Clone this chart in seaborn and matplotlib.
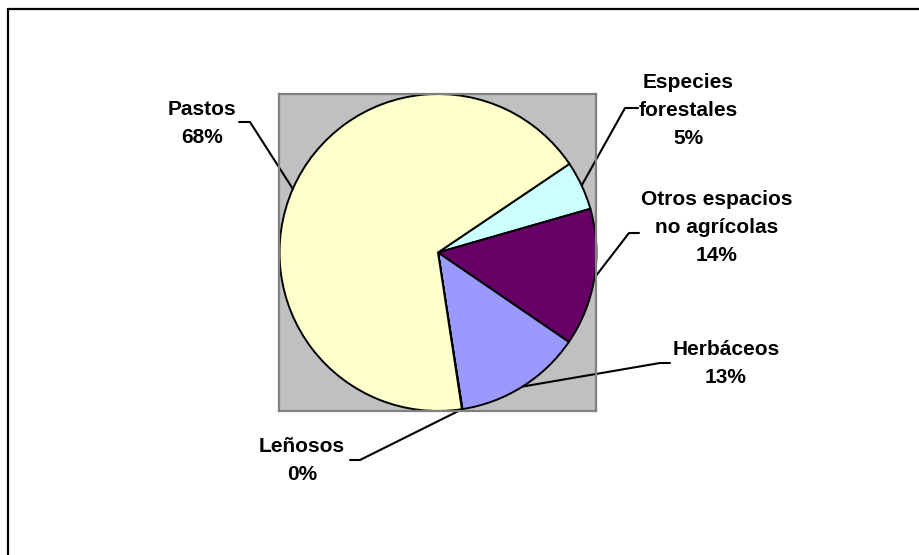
import matplotlib
matplotlib.use("Agg")
import matplotlib.pyplot as plt
from matplotlib.lines import Line2D
import numpy as np
import seaborn as sns

# Land-use shares, listed clockwise starting at the top-right
categories = ["Especies\nforestales", "Otros espacios\nno agrícolas", "Herbáceos", "Leñosos", "Pastos"]
values = [5.0, 14.0, 13.0, 0.05, 68.0]
slice_colors = ["#CCFFFF", "#660066", "#9999FF", "#993366", "#FFFFCC"]

sns.set_theme(style="white")
plt.rcParams["font.family"] = ["Liberation Sans", "DejaVu Sans"]

W, H = 920, 555
fig = plt.figure(figsize=(W / 100, H / 100), dpi=100)
fig.patch.set_facecolor("white")

# Outer frame (top and left edges visible)
fig.add_artist(Line2D([8 / W, 1.0], [1 - 9 / H, 1 - 9 / H], color="black", lw=1.6,
                      transform=fig.transFigure))
fig.add_artist(Line2D([8 / W, 8 / W], [0.0, 1 - 9 / H], color="black", lw=1.6,
                      transform=fig.transFigure))

# Plot area: grey square holding the pie
ax = fig.add_axes([279 / W, (H - 411) / H, 318 / W, 317 / H])
wedges, _ = ax.pie(values, colors=slice_colors, startangle=34, counterclock=False,
                   radius=1.0, center=(0, 0),
                   wedgeprops=dict(edgecolor="black", linewidth=1.4))
ax.set_frame_on(True)
ax.set_facecolor("#C0C0C0")
for sp in ax.spines.values():
    sp.set_visible(True)
    sp.set_color("#808080")
    sp.set_linewidth(1.6)
ax.set_xlim(-1.0, 1.0)
ax.set_ylim(-1.0, 1.0)
ax.set_aspect("equal", adjustable="box")
ax.set_xticks([])
ax.set_yticks([])

fig.canvas.draw()
inv = ax.transData.inverted()


def px_to_data(px, py):
    return inv.transform((px, H - py))


total = sum(values)
# Label centre x, top of the first line, and the leader's horizontal stub (x0, x1, y)
label_layout = {
    "Especies\nforestales": dict(tx=688, ty=75, stub=(638, 625, 108)),
    "Otros espacios\nno agrícolas": dict(tx=717, ty=192, stub=(639, 629, 233)),
    "Herbáceos": dict(tx=726, ty=342, stub=(670, 660, 363)),
    "Leñosos": dict(tx=302, ty=439, stub=(350, 360, 460)),
    "Pastos": dict(tx=202, ty=102, stub=(239, 250, 122)),
}

for w, cat, v in zip(wedges, categories, values):
    lay = label_layout[cat]
    pct = int(round(100 * v / total))
    txt = f"{cat}\n{pct}%"
    fig.text(lay["tx"] / W, 1 - (lay["ty"] - 2) / H, txt, ha="center", va="top",
             fontsize=15, fontweight="bold", color="black", linespacing=1.6)
    mid = np.deg2rad((w.theta1 + w.theta2) / 2)
    ex, ey = np.cos(mid), np.sin(mid)
    x0, x1, ys = lay["stub"]
    p0 = px_to_data(x0, ys)
    p1 = px_to_data(x1, ys)
    ax.add_line(Line2D([p0[0], p1[0], ex], [p0[1], p1[1], ey], color="black",
                       lw=1.5, clip_on=False))

fig.savefig("out.png", dpi=100, facecolor="white")
